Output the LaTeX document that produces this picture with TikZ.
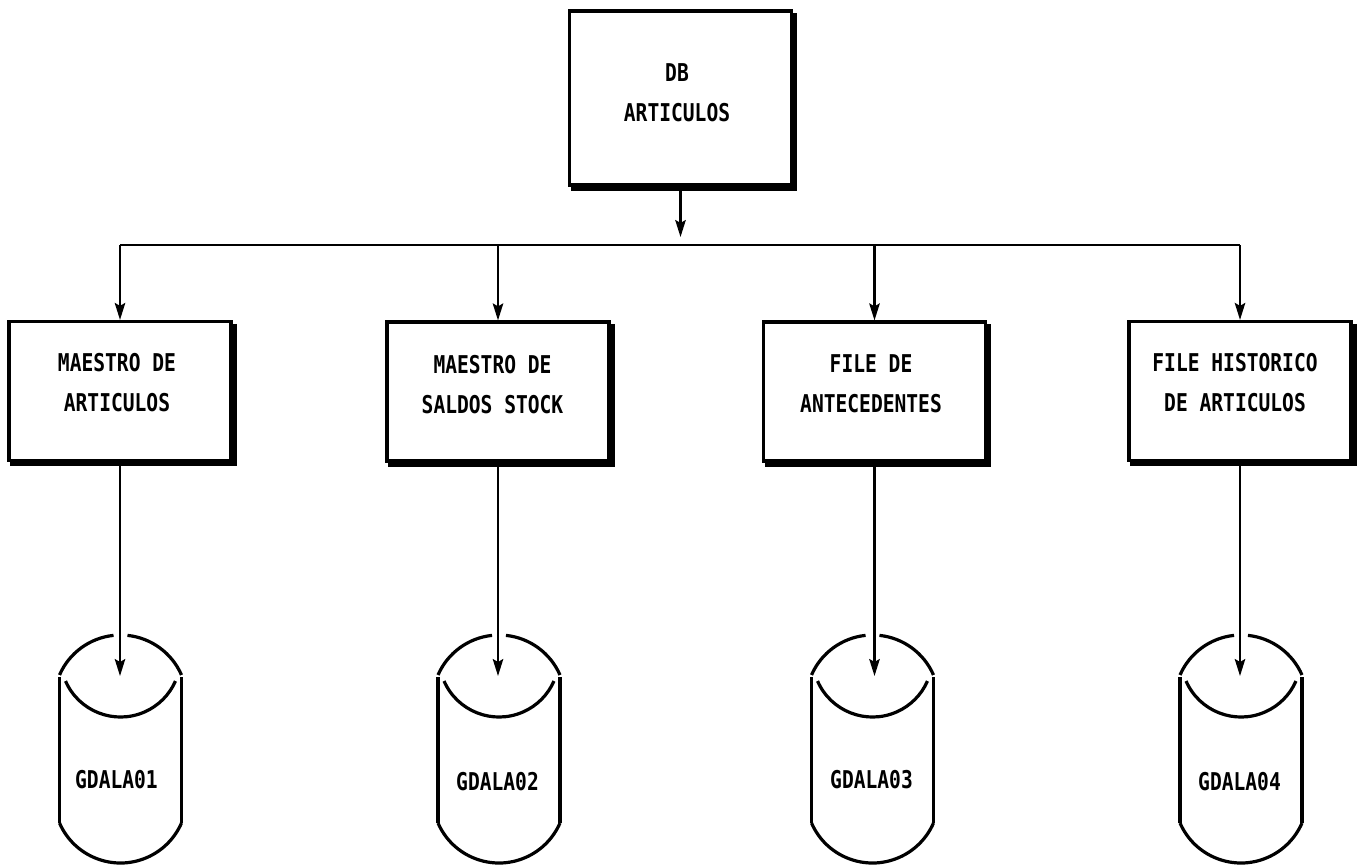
\documentclass[tikz,border=0pt]{standalone}
\usepackage{fontspec}
\usetikzlibrary{arrows.meta,calc}
\newfontfamily\plotfont[FakeStretch=0.8]{DejaVu Sans Mono}
\begin{document}
\begin{tikzpicture}[x=1pt,y=-1pt,
  box/.style={draw,line width=3.2pt,minimum width=222pt,minimum height=139pt,inner sep=0pt},
  txt/.style={font=\plotfont\bfseries\fontsize{24.5}{40}\selectfont,align=center,inner sep=0pt},
  wire/.style={line width=2.2pt},
  arr/.style={wire,-{Stealth[length=17pt,width=10.5pt,inset=3pt]}},
  disk/.style={line width=3.2pt},
  shade/.style={line width=4pt}]
\useasboundingbox (0,0) rectangle (1365,865);

% ---- boxes ----
\node[box,minimum height=174pt] (top) at (680.5,98) {};
\node[box] (b1) at (120,391) {};
\node[box] (b2) at (498,391.5) {};
\node[box] (b3) at (874.5,391.5) {};
\node[box] (b4) at (1240,391) {};

% drop shadows on right and bottom edges
\foreach \b in {top,b1,b2,b3,b4}{
  \draw[shade] ($(\b.north east)+(2,4)$) -- ($(\b.south east)+(2,2)$) -- ($(\b.south west)+(3,2)$);
}

% ---- box labels ----
\node[txt] (toptxt) at (677,92.5) {DB\\ARTICULOS};
\node[txt] (b1txt) at (117,383) {MAESTRO DE\\ARTICULOS};
\node[txt] (b2txt) at (492.5,385) {MAESTRO DE\\SALDOS STOCK};
\node[txt] (b3txt) at (871,384) {FILE DE\\ANTECEDENTES};
\node[txt] (b4txt) at (1235,383) {FILE HISTORICO\\DE ARTICULOS};

% ---- distribution bus ----
\coordinate (toptip) at (680.5,237);
\coordinate (busL) at (120,245);
\coordinate (busR) at (1240,245);
\draw[arr] (top.south) -- (toptip);
\draw[wire] (busL) -- (busR);
\foreach \b in {b1,b2,b3,b4}{
  \draw[arr] (\b.north |- busL) -- (\b.north);
}

% ---- disk files ----
\foreach \n/\cx/\lx/\ly/\name in {1/120.5/116.5/780/GDALA01,2/499/497.5/782/GDALA02,3/872.5/871.5/780/GDALA03,4/1241/1239.5/782/GDALA04}{
  % top cap, split where the arrow enters
  \draw[disk] ($(\cx,701.5)+(156.5:66.5pt)$) arc[start angle=156.5,end angle=96,radius=66.5pt];
  \draw[disk] ($(\cx,701.5)+(84:66.5pt)$) arc[start angle=84,end angle=23.5,radius=66.5pt];
  % inner rim
  \draw[disk] ($(\cx,657)+(203.6:60pt)$) arc[start angle=203.6,end angle=336.4,radius=60pt];
  % sides
  \draw[disk] (\cx-61,677) -- (\cx-61,823);
  \draw[disk] (\cx+61,677) -- (\cx+61,823);
  % bottom
  \draw[disk] ($(\cx,796.5)+(203.5:66.5pt)$) arc[start angle=203.5,end angle=336.5,radius=66.5pt];
  \coordinate (d\n top) at (\cx,676);
  \node[txt] (d\n) at (\lx,\ly) {\name};
}

% ---- feeds from boxes to disks ----
\foreach \n in {1,2,3,4}{
  \draw[arr] (b\n.south) -- (b\n.south |- d\n top);
}
\end{tikzpicture}
\end{document}
